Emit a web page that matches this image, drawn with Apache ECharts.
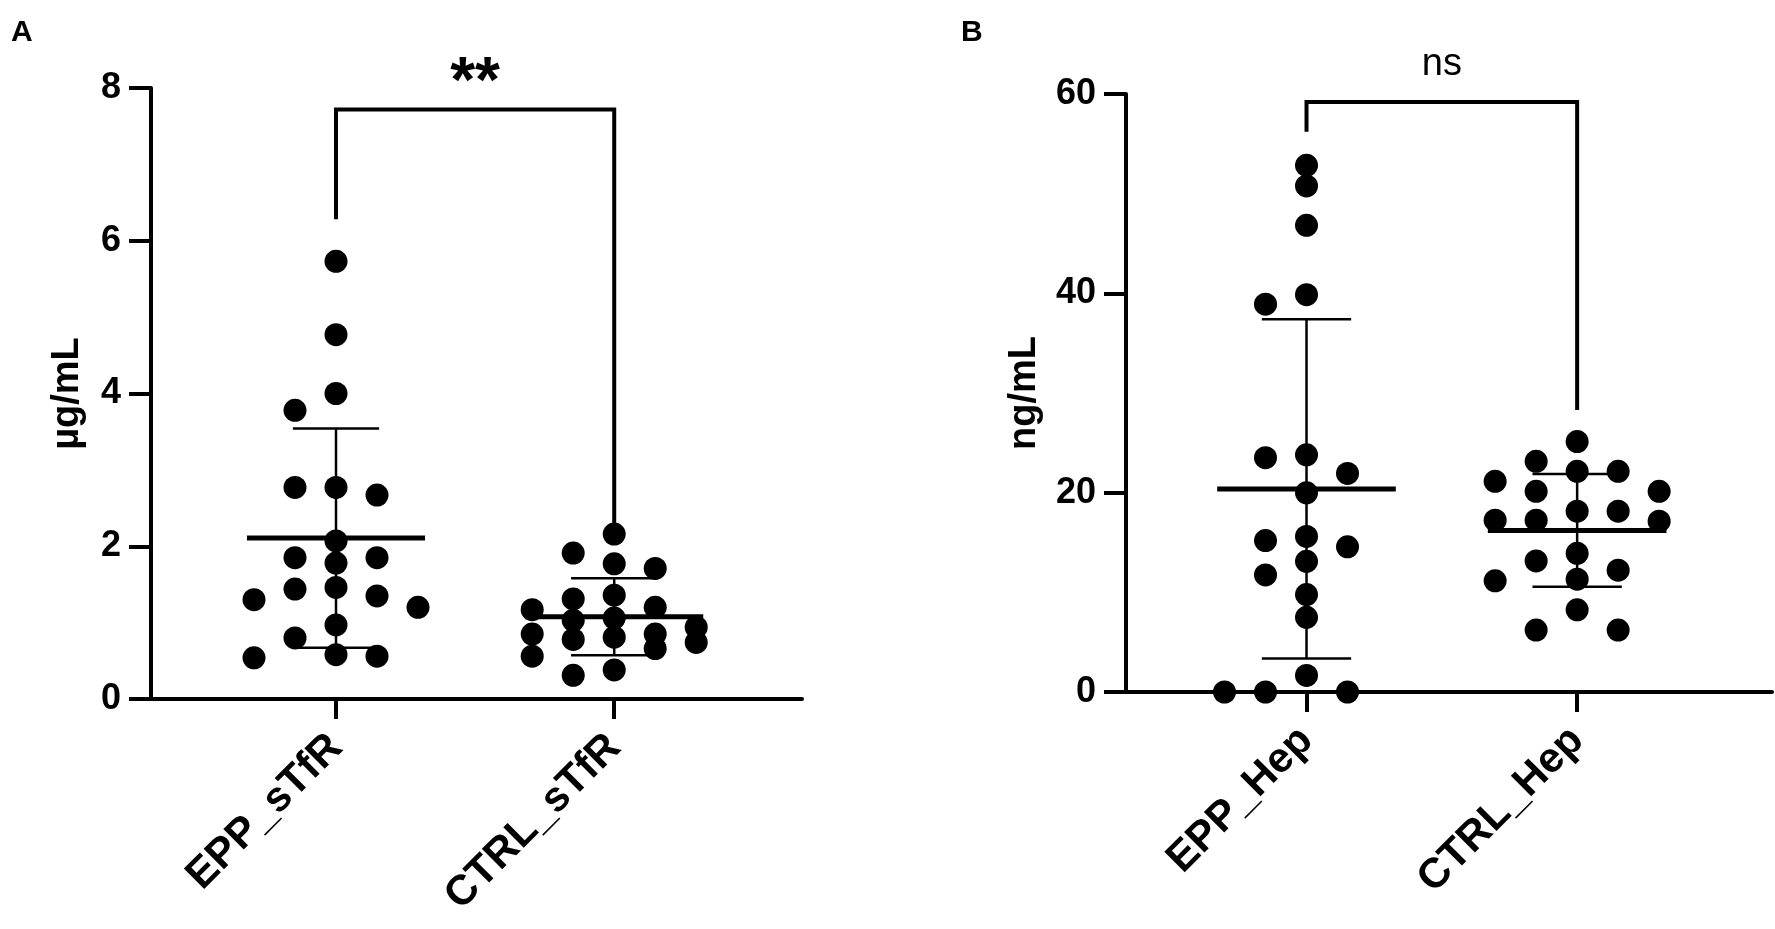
<!DOCTYPE html>
<html><head><meta charset="utf-8">
<script src="https://cdn.jsdelivr.net/npm/echarts@6/dist/echarts.min.js"></script>
<style>html,body{margin:0;padding:0;background:#fff}#c{width:1775px;height:929px}</style>
</head><body><div id="c"></div><script>
// ---------- data ----------
const categoriesA = ['EPP_sTfR', 'CTRL_sTfR'];
const categoriesB = ['EPP_Hep', 'CTRL_Hep'];
const eppSTfR = [5.73, 4.77, 4.00, 3.78, 2.67, 2.77, 2.77, 2.07, 1.85, 1.78, 1.85, 1.46, 1.35, 1.20, 1.30, 1.44, 0.97, 0.80, 0.56, 0.58, 0.54];
const ctrlSTfR = [2.16, 1.91, 1.77, 1.71, 1.31, 1.36, 1.20, 1.17, 1.03, 1.06, 0.94, 0.85, 0.85, 0.78, 0.74, 0.81, 0.66, 0.56, 0.31, 0.38];
const eppHep = [52.85, 50.77, 46.82, 39.87, 38.91, 23.80, 23.51, 21.93, 19.98, 15.19, 15.61, 14.57, 13.11, 11.74, 9.78, 7.49, 1.66, 0, 0, 0];
const ctrlHep = [25.13, 23.14, 22.14, 22.14, 21.14, 20.14, 20.14, 18.14, 18.14, 17.24, 17.24, 17.14, 13.92, 13.15, 12.22, 11.15, 11.32, 8.25, 6.22, 6.22];
const ticksA = [0, 2, 4, 6, 8];
const ticksB = [0, 20, 40, 60];
const bracketA = [7.72, 6.28, 2.29];   // top, left leg end, right leg end
const bracketB = [59.2, 56.2, 28.3];
const sigLabels = ['**', 'ns'];
const yNames = ['µg/mL', 'ng/mL'];
const panelLetters = ['A', 'B'];

// ---------- layout ----------
const FONT = 'Liberation Sans, Arial, sans-serif';
const gridA = {left: 151, top: 88, width: 651, height: 611};
const gridB = {left: 1126, top: 94, width: 646, height: 598};
const xRangeA = [0.335, 2.675], xRangeB = [0.333, 2.72];
const DOT = 23, COLPX = 41, MAXCOL = 2;

function mean(a){return a.reduce((s,v)=>s+v,0)/a.length;}
function sd(a){const m=mean(a);return Math.sqrt(a.reduce((s,v)=>s+(v-m)*(v-m),0)/(a.length-1));}

// simple beeswarm: place each value in the column nearest the centre that does not collide
function swarm(vals, cat, grid, xr, yMax){
  const pxY = grid.height / yMax;
  const pxX = grid.width / (xr[1]-xr[0]);
  const minSep = DOT*0.9/pxY;
  const step = COLPX/pxX;
  const order = vals.map((v,i)=>i).sort((a,b)=>vals[b]-vals[a]);
  const cand = [0];
  for (let k=1;k<=MAXCOL;k++){cand.push(-k, k);}
  const placed = [];
  const out = new Array(vals.length);
  order.forEach(i=>{
    const v = vals[i];
    let best = null, bestClear = -1;
    for (const c of cand){
      const same = placed.filter(p=>p.c===c);
      const clear = same.length ? Math.min(...same.map(p=>Math.abs(p.v-v))) : Infinity;
      if (clear >= minSep){best = c; break;}
      if (clear > bestClear){bestClear = clear; best = c;}
    }
    placed.push({c:best, v}); out[i] = [cat + best*step, v];
  });
  return out;
}

function statRender(halfMean, halfCap){
  return function(params, api){
    const x = api.value(0), m = api.value(1), s = api.value(2);
    const lo = Math.max(m - s, 0);
    const a = api.coord([x-halfMean, m]), b = api.coord([x+halfMean, m]);
    const t = api.coord([x, m+s]), bt = api.coord([x, lo]);
    const tl = api.coord([x-halfCap, m+s]), tr = api.coord([x+halfCap, m+s]);
    const bl = api.coord([x-halfCap, lo]), br = api.coord([x+halfCap, lo]);
    const thin = {stroke:'#000', lineWidth:2.5};
    return {type:'group', children:[
      {type:'line', shape:{x1:t[0],y1:t[1],x2:bt[0],y2:bt[1]}, style:thin},
      {type:'line', shape:{x1:tl[0],y1:tl[1],x2:tr[0],y2:tr[1]}, style:thin},
      {type:'line', shape:{x1:bl[0],y1:bl[1],x2:br[0],y2:br[1]}, style:thin},
      {type:'line', shape:{x1:a[0],y1:a[1],x2:b[0],y2:b[1]}, style:{stroke:'#000', lineWidth:5}}
    ]};
  };
}

function bracketRender(label, bold, size, gap){
  return function(params, api){
    const top = api.value(0), l = api.value(1), r = api.value(2);
    const p1 = api.coord([1, l]), p2 = api.coord([1, top]), p3 = api.coord([2, top]), p4 = api.coord([2, r]);
    return {type:'group', children:[
      {type:'polyline', shape:{points:[p1,p2,p3,p4]}, style:{stroke:'#000', lineWidth:4, fill:null}},
      {type:'text', x:(p2[0]+p3[0])/2, y:p2[1]-gap, style:{text:label, fill:'#000', font:(bold?'bold ':'')+size+'px '+FONT, align:'center', verticalAlign:'bottom'}}
    ]};
  };
}

function xAxisCfg(gi, xr, cats){
  return {type:'value', gridIndex:gi, min:xr[0], max:xr[1], splitLine:{show:false},
    axisLine:{onZero:false, lineStyle:{color:'#000', width:4}},
    axisTick:{show:true, customValues:[1,2], length:20, lineStyle:{color:'#000', width:4}},
    axisLabel:{show:true, customValues:[1,2], formatter:v=>cats[Math.round(v)-1], rotate:45, margin:42,
      color:'#000', fontSize:42, fontWeight:'bold', fontFamily:FONT}};
}
function yAxisCfg(gi, ticks, name, gap){
  return {type:'value', gridIndex:gi, min:ticks[0], max:ticks[ticks.length-1], interval:ticks[1]-ticks[0],
    splitLine:{show:false},
    axisLine:{show:true, onZero:false, lineStyle:{color:'#000', width:4}},
    axisTick:{show:true, length:22, lineStyle:{color:'#000', width:4}},
    axisLabel:{color:'#000', fontSize:36, fontWeight:'bold', fontFamily:FONT, margin:30},
    name:name, nameLocation:'middle', nameRotate:90, nameGap:gap,
    nameTextStyle:{color:'#000', fontSize:38, fontWeight:'bold', fontFamily:FONT}};
}

const chart = echarts.init(document.getElementById('c'), null, {renderer:'canvas'});
const dotStyle = {color:'#000', opacity:1};
const option = {
  backgroundColor:'#fff',
  animation:false,
  grid:[gridA, gridB],
  xAxis:[xAxisCfg(0, xRangeA, categoriesA), xAxisCfg(1, xRangeB, categoriesB)],
  yAxis:[yAxisCfg(0, ticksA, yNames[0], 64), yAxisCfg(1, ticksB, yNames[1], 82)],
  graphic:[
    {type:'text', left:11, top:18, style:{text:panelLetters[0], font:'bold 30px '+FONT, fill:'#000'}},
    {type:'text', left:961, top:18, style:{text:panelLetters[1], font:'bold 30px '+FONT, fill:'#000'}}
  ],
  series:[
    {type:'scatter', xAxisIndex:0, yAxisIndex:0, symbolSize:DOT, itemStyle:dotStyle, data:swarm(eppSTfR,1,gridA,xRangeA,8)},
    {type:'scatter', xAxisIndex:0, yAxisIndex:0, symbolSize:DOT, itemStyle:dotStyle, data:swarm(ctrlSTfR,2,gridA,xRangeA,8)},
    {type:'scatter', xAxisIndex:1, yAxisIndex:1, symbolSize:DOT, itemStyle:dotStyle, data:swarm(eppHep,1,gridB,xRangeB,60)},
    {type:'scatter', xAxisIndex:1, yAxisIndex:1, symbolSize:DOT, itemStyle:dotStyle, data:swarm(ctrlHep,2,gridB,xRangeB,60)},
    {type:'custom', xAxisIndex:0, yAxisIndex:0, clip:false, z:5, renderItem:statRender(0.32,0.155),
      data:[[1, mean(eppSTfR), sd(eppSTfR)],[2, mean(ctrlSTfR), sd(ctrlSTfR)]]},
    {type:'custom', xAxisIndex:1, yAxisIndex:1, clip:false, z:5, renderItem:statRender(0.33,0.165),
      data:[[1, mean(eppHep), sd(eppHep)],[2, mean(ctrlHep), sd(ctrlHep)]]},
    {type:'custom', xAxisIndex:0, yAxisIndex:0, clip:false, renderItem:bracketRender(sigLabels[0], true, 64, -7), data:[bracketA]},
    {type:'custom', xAxisIndex:1, yAxisIndex:1, clip:false, renderItem:bracketRender(sigLabels[1], false, 38, 18), data:[bracketB]}
  ]
};
chart.setOption(option);
</script></body></html>
